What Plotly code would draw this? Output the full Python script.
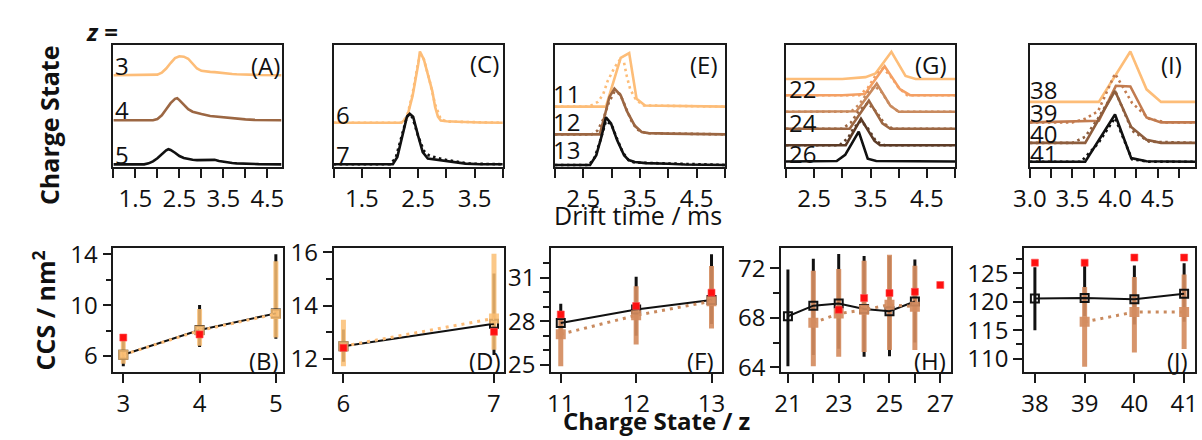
import numpy as np
import plotly.graph_objects as go

W, H = 1202, 440
FONT = "Open Sans"

# ---------------- colours ----------------
LIGHT = "#fdbd78"
ORANGE = "#f4a064"
TAN = "#c98a5e"
BROWN = "#9c6743"
DARK = "#5c3b26"
BLACK = "#111111"
I39_COL = "#c27b4f"
I40_COL = "#8e5e3e"
ERR_LIGHT = "rgba(250,190,115,0.85)"
ERR_TAN = "rgba(212,140,95,0.92)"
RED = "#ff1010"

# ---------------- arrival time distributions (normalised intensity) ----------------
# (A) z = 3, 4, 5
A3_t = [1.0, 1.9, 2.0, 2.1, 2.2, 2.3, 2.4, 2.5, 2.6, 2.7, 2.8, 2.9, 3.0, 3.1, 3.2, 3.3, 3.4, 3.5, 3.6, 3.7, 3.8, 4.0, 4.3, 4.82]
A3_i = [0, 0, 0.005, 0.02, 0.055, 0.1, 0.14, 0.155, 0.152, 0.135, 0.095, 0.055, 0.036, 0.03, 0.027, 0.025, 0.02, 0.016, 0.013, 0.01, 0.008, 0.005, 0.002, 0]
A4_t = [1.0, 1.9, 2.0, 2.1, 2.2, 2.3, 2.4, 2.45, 2.5, 2.6, 2.7, 2.8, 2.9, 3.0, 3.2, 3.4, 3.6, 3.8, 4.0, 4.2, 4.82]
A4_i = [0, 0, 0.01, 0.04, 0.09, 0.14, 0.175, 0.18, 0.165, 0.125, 0.09, 0.07, 0.058, 0.05, 0.035, 0.027, 0.02, 0.012, 0.007, 0.003, 0]
A5_t = [1.0, 1.7, 1.8, 1.9, 2.0, 2.1, 2.2, 2.25, 2.3, 2.4, 2.5, 2.6, 2.7, 2.8, 2.9, 3.0, 3.1, 3.2, 3.3, 3.4, 3.5, 3.6, 3.7, 3.8, 4.0, 4.3, 4.82]
A5_i = [0, 0, 0.008, 0.025, 0.05, 0.085, 0.115, 0.124, 0.118, 0.095, 0.068, 0.052, 0.043, 0.038, 0.035, 0.036, 0.04, 0.042, 0.037, 0.028, 0.021, 0.015, 0.011, 0.008, 0.005, 0.002, 0]

# (C) z = 6, 7
C6_t = [1.0, 2.2, 2.3, 2.4, 2.5, 2.53, 2.6, 2.68, 2.75, 2.8, 2.85, 2.9, 3.0, 3.2, 3.4, 3.6, 4.0]
C6_i = [0, 0.0, 0.04, 0.22, 0.48, 0.584, 0.52, 0.39, 0.26, 0.13, 0.05, 0.018, 0.012, 0.008, 0.004, 0.002, 0]
C6_fit_t = [1.0, 2.2, 2.3, 2.4, 2.5, 2.55, 2.6, 2.7, 2.8, 2.9, 3.0, 4.0]
C6_fit_i = [0, 0.0, 0.05, 0.24, 0.5, 0.56, 0.52, 0.35, 0.15, 0.03, 0.01, 0]
C7_t = [1.0, 2.05, 2.13, 2.22, 2.3, 2.35, 2.41, 2.5, 2.58, 2.67, 2.88, 3.11, 3.34, 3.6, 4.0]
C7_i = [0, 0.0, 0.06, 0.23, 0.39, 0.414, 0.39, 0.23, 0.1, 0.047, 0.034, 0.02, 0.005, 0.0, 0]
C7_fit_t = [1.0, 2.0, 2.1, 2.2, 2.3, 2.35, 2.4, 2.5, 2.6, 2.7, 2.8, 2.9, 3.0, 3.2, 3.4, 4.0]
C7_fit_i = [0, 0, 0.05, 0.22, 0.39, 0.41, 0.38, 0.23, 0.11, 0.07, 0.055, 0.045, 0.035, 0.02, 0.005, 0]

# (E) z = 11, 12, 13
E11_t = [2.0, 2.9, 3.16, 3.31, 3.44, 3.59, 5.0]
E11_i = [0, 0.0, 0.40, 0.44, 0.065, 0.01, 0]
E11_fit_t = [2.0, 2.6, 2.76, 2.85, 2.93, 3.05, 3.13, 3.22, 3.27, 3.33, 3.42, 3.55, 5.0]
E11_fit_i = [0, 0, 0.04, 0.1, 0.21, 0.32, 0.375, 0.36, 0.245, 0.14, 0.065, 0.01, 0]
E12_t = [2.0, 2.79, 2.87, 2.96, 3.05, 3.16, 3.27, 3.41, 3.53, 3.65, 4.0, 4.5, 5.0]
E12_i = [0, 0.0, 0.137, 0.305, 0.375, 0.32, 0.19, 0.07, 0.02, 0.01, 0.006, 0.002, 0]
E12_fit_t = [2.0, 2.65, 2.75, 2.85, 2.95, 3.05, 3.15, 3.25, 3.35, 3.45, 3.6, 5.0]
E12_fit_i = [0, 0, 0.03, 0.12, 0.26, 0.35, 0.33, 0.22, 0.11, 0.04, 0.01, 0]
E13_t = [2.0, 2.62, 2.73, 2.82, 2.9, 2.99, 3.1, 3.22, 3.3, 3.41, 3.6, 3.8, 4.0, 4.3, 5.0]
E13_i = [0, 0, 0.08, 0.23, 0.39, 0.34, 0.2, 0.08, 0.04, 0.025, 0.015, 0.015, 0.01, 0.004, 0]
E13_fit_t = [2.0, 2.6, 2.7, 2.8, 2.9, 3.0, 3.1, 3.2, 3.3, 3.4, 5.0]
E13_fit_i = [0, 0, 0.06, 0.2, 0.36, 0.33, 0.21, 0.1, 0.04, 0.02, 0]

# (G) z = 21 ... 26
G21_t = [2.0, 3.0, 3.41, 3.59, 3.87, 4.12, 4.3, 5.0]
G21_i = [0, 0.0, 0.015, 0.046, 0.223, 0.025, 0.0, 0]
G22_t = [2.0, 3.0, 3.4, 3.75, 4.02, 4.2, 5.0]
G22_i = [0, 0.0, 0.01, 0.238, 0.05, 0.0, 0]
G22_fit_t = [2.0, 3.3, 3.45, 3.6, 3.72, 3.85, 4.0, 4.15, 5.0]
G22_fit_i = [0, 0, 0.06, 0.17, 0.22, 0.16, 0.06, 0.0, 0]
G23_t = [2.0, 3.0, 3.25, 3.61, 3.85, 4.0, 5.0]
G23_i = [0, 0, 0.005, 0.231, 0.05, 0.0, 0]
G23_fit_t = [2.0, 3.15, 3.3, 3.45, 3.58, 3.7, 3.85, 4.0, 5.0]
G23_fit_i = [0, 0, 0.06, 0.16, 0.21, 0.16, 0.05, 0, 0]
G24_t = [2.0, 3.0, 3.13, 3.47, 3.71, 3.85, 5.0]
G24_i = [0, 0, 0.0, 0.23, 0.045, 0.0, 0]
G24_fit_t = [2.0, 3.0, 3.15, 3.3, 3.45, 3.6, 3.75, 3.9, 5.0]
G24_fit_i = [0, 0, 0.05, 0.15, 0.21, 0.14, 0.04, 0, 0]
G25_t = [2.0, 3.0, 3.06, 3.33, 3.57, 3.67, 5.0]
G25_i = [0, 0, 0.0, 0.216, 0.035, 0.0, 0]
G25_fit_t = [2.0, 2.95, 3.1, 3.2, 3.33, 3.45, 3.6, 3.75, 5.0]
G25_fit_i = [0, 0, 0.06, 0.14, 0.2, 0.14, 0.03, 0, 0]
G26_t = [2.0, 2.9, 3.05, 3.29, 3.45, 3.6, 5.0]
G26_i = [0, 0.005, 0.055, 0.246, 0.023, 0.005, 0]

# (I) z = 38 ... 41
I38_t = [3.0, 3.81, 4.18, 4.37, 4.54, 4.94]
I38_i = [0, 0.0, 0.413, 0.103, 0.0, 0]
I39_t = [3.0, 3.81, 4.01, 4.18, 4.37, 4.54, 4.94]
I39_i = [0, 0.013, 0.30, 0.295, 0.04, 0.0, 0]
I39_fit_t = [3.0, 3.5, 3.65, 3.8, 4.0, 4.2, 4.4, 4.6, 4.94]
I39_fit_i = [0, 0, 0.03, 0.09, 0.40, 0.16, 0.03, 0.0, 0]
I40_t = [3.0, 3.65, 4.0, 4.19, 4.37, 4.54, 4.94]
I40_i = [0, 0.0, 0.426, 0.13, 0.025, 0.0, 0]
I40_fit_t = [3.0, 3.5, 3.65, 3.8, 4.0, 4.2, 4.4, 4.94]
I40_fit_i = [0, 0, 0.05, 0.2, 0.43, 0.1, 0.01, 0]
I41_t = [3.0, 3.65, 4.0, 4.19, 4.37, 4.94]
I41_i = [0, 0.0, 0.388, 0.03, 0.005, 0]
I41_fit_t = [3.0, 3.6, 3.8, 4.0, 4.2, 4.4, 4.94]
I41_fit_i = [0, 0.0, 0.15, 0.36, 0.02, 0.0, 0]

# vertical stacking offsets of each charge state trace
OFF_A = {3: 0.754, 4: 0.385, 5: 0.023}
OFF_C = {6: 0.364, 7: 0.024}
OFF_E = {11: 0.496, 12: 0.269, 13: 0.018}
OFF_G = {21: 0.723, 22: 0.59, 23: 0.454, 24: 0.315, 25: 0.18, 26: 0.046}
OFF_I = {38: 0.535, 39: 0.367, 40: 0.199, 41: 0.044}

# ---------------- collision cross sections (nm^2) ----------------
B_z = [3, 4, 5]
B_exp = [6.1, 8.05, 9.35]
B_exp_hi = [7.4, 10.0, 14.0]
B_exp_lo = [5.2, 6.7, 7.35]
B_fit = [6.1, 8.0, 9.3]
B_fit_hi = [7.3, 9.7, 13.45]
B_fit_lo = [5.4, 6.8, 7.45]
B_ref_z = [3, 4]
B_ref = [7.45, 7.7]

D_z = [6, 7]
D_exp = [12.48, 13.32]
D_exp_hi = [13.1, 15.2]
D_exp_lo = [11.9, 12.15]
D_fit = [12.48, 13.52]
D_fit_hi = [13.47, 15.94]
D_fit_lo = [11.73, 12.35]
D_ref_z = [6, 7]
D_ref = [12.42, 13.02]

F_z = [11, 12, 13]
F_exp = [27.87, 28.8, 29.45]
F_exp_hi = [29.2, 31.05, 32.6]
F_exp_lo = [26.8, 27.0, 27.8]
F_fit = [27.1, 28.4, 29.37]
F_fit_hi = [28.5, 30.4, 31.8]
F_fit_lo = [24.9, 26.4, 27.5]
F_ref_z = [11, 12, 13]
F_ref = [28.46, 29.04, 29.96]

H_z = [21, 22, 23, 24, 25, 26]
H_exp = [68.13, 68.98, 69.16, 68.72, 68.54, 69.32]
H_exp_hi = [71.9, 72.77, 73.16, 73.0, 73.0, 72.7]
H_exp_lo = [64.1, 65.0, 65.5, 64.85, 64.9, 66.0]
H_fit_z = [22, 23, 24, 25, 26]
H_fit = [67.6, 68.34, 68.65, 69.05, 68.9]
H_fit_hi = [71.8, 71.95, 72.6, 73.1, 72.2]
H_fit_lo = [64.1, 64.85, 65.25, 65.4, 65.4]
H_ref_z = [23, 24, 25, 26, 27]
H_ref = [68.65, 69.6, 70.0, 70.1, 70.65]

J_z = [38, 39, 40, 41]
J_exp = [120.6, 120.7, 120.45, 121.45]
J_exp_hi = [126.1, 126.3, 126.4, 126.8]
J_exp_lo = [115.0, 117.5, 116.0, 116.5]
J_fit_z = [39, 40, 41]
J_fit = [116.5, 118.2, 118.2]
J_fit_hi = [122.6, 124.4, 124.8]
J_fit_lo = [108.6, 111.1, 111.7]
J_ref_z = [38, 39, 40, 41]
J_ref = [126.9, 126.9, 127.8, 127.8]

# ---------------- figure ----------------
fig = go.Figure()


def ax_ids(n):
    s = "" if n == 1 else str(n)
    return "x" + s, "y" + s


def trace_line(n, t, inten, base, color, dash="solid", width=2.6):
    xr, yr = ax_ids(n)
    y = np.asarray(inten, dtype=float) + base
    fig.add_trace(go.Scatter(
        x=t, y=y, mode="lines", xaxis=xr, yaxis=yr, showlegend=False,
        hoverinfo="skip", line=dict(color=color, width=width, dash=dash,
                                    shape="linear")))


DOT = "2.5px,3.5px"

# (A)
trace_line(1, A3_t, A3_i, OFF_A[3], LIGHT)
trace_line(1, A4_t, A4_i, OFF_A[4], BROWN)
trace_line(1, A5_t, A5_i, OFF_A[5], BLACK)
# (C)
trace_line(2, C6_t, C6_i, OFF_C[6], LIGHT)
trace_line(2, C6_fit_t, C6_fit_i, OFF_C[6], LIGHT, DOT)
trace_line(2, C7_t, C7_i, OFF_C[7], BLACK)
trace_line(2, C7_fit_t, C7_fit_i, OFF_C[7], BLACK, DOT)
# (E)
trace_line(3, E11_t, E11_i, OFF_E[11], LIGHT)
trace_line(3, E11_fit_t, E11_fit_i, OFF_E[11], LIGHT, DOT)
trace_line(3, E12_t, E12_i, OFF_E[12], BROWN)
trace_line(3, E12_fit_t, E12_fit_i, OFF_E[12], BROWN, DOT)
trace_line(3, E13_t, E13_i, OFF_E[13], BLACK)
trace_line(3, E13_fit_t, E13_fit_i, OFF_E[13], BLACK, DOT)
# (G)
trace_line(4, G21_t, G21_i, OFF_G[21], LIGHT)
trace_line(4, G22_t, G22_i, OFF_G[22], ORANGE)
trace_line(4, G22_fit_t, G22_fit_i, OFF_G[22], ORANGE, DOT)
trace_line(4, G23_t, G23_i, OFF_G[23], TAN)
trace_line(4, G23_fit_t, G23_fit_i, OFF_G[23], TAN, DOT)
trace_line(4, G24_t, G24_i, OFF_G[24], BROWN)
trace_line(4, G24_fit_t, G24_fit_i, OFF_G[24], BROWN, DOT)
trace_line(4, G25_t, G25_i, OFF_G[25], DARK)
trace_line(4, G25_fit_t, G25_fit_i, OFF_G[25], DARK, DOT)
trace_line(4, G26_t, G26_i, OFF_G[26], BLACK)
# (I)
trace_line(5, I38_t, I38_i, OFF_I[38], LIGHT)
trace_line(5, I39_t, I39_i, OFF_I[39], I39_COL)
trace_line(5, I39_fit_t, I39_fit_i, OFF_I[39], I39_COL, DOT)
trace_line(5, I40_t, I40_i, OFF_I[40], I40_COL)
trace_line(5, I40_fit_t, I40_fit_i, OFF_I[40], I40_COL, DOT)
trace_line(5, I41_t, I41_i, OFF_I[41], BLACK)
trace_line(5, I41_fit_t, I41_fit_i, OFF_I[41], BLACK, DOT)


def ccs_panel(n, ez, ey, ehi, elo, fz, fy, fhi, flo, rz, ry, fit_col, err_col):
    xr, yr = ax_ids(n)
    common = dict(xaxis=xr, yaxis=yr, showlegend=False, hoverinfo="skip")
    ey, ehi, elo = map(np.asarray, (ey, ehi, elo))
    fy, fhi, flo = map(np.asarray, (fy, fhi, flo))
    # error bars of the measured values
    fig.add_trace(go.Scatter(
        x=ez, y=ey, mode="markers", marker=dict(size=1, opacity=0),
        error_y=dict(type="data", symmetric=False, array=ehi - ey,
                     arrayminus=ey - elo, color=BLACK, thickness=3, width=0),
        **common))
    # error bars of the modelled values
    fig.add_trace(go.Scatter(
        x=fz, y=fy, mode="markers", marker=dict(size=1, opacity=0),
        error_y=dict(type="data", symmetric=False, array=fhi - fy,
                     arrayminus=fy - flo, color=err_col, thickness=5, width=0),
        **common))
    fig.add_trace(go.Scatter(
        x=ez, y=ey, mode="lines+markers",
        line=dict(color=BLACK, width=2),
        marker=dict(symbol="square-open", size=8, color=BLACK,
                    line=dict(width=2, color=BLACK)),
        **common))
    fig.add_trace(go.Scatter(
        x=fz, y=fy, mode="lines+markers",
        line=dict(color=fit_col, width=3, dash="3px,5px"),
        marker=dict(symbol="square", size=10, color=err_col),
        **common))
    fig.add_trace(go.Scatter(
        x=rz, y=ry, mode="markers",
        marker=dict(symbol="square", size=7, color=RED,
                    line=dict(width=1, color="rgba(255,80,80,0.6)")),
        **common))


ccs_panel(6, B_z, B_exp, B_exp_hi, B_exp_lo, B_z, B_fit, B_fit_hi, B_fit_lo,
          B_ref_z, B_ref, LIGHT, ERR_LIGHT)
ccs_panel(7, D_z, D_exp, D_exp_hi, D_exp_lo, D_z, D_fit, D_fit_hi, D_fit_lo,
          D_ref_z, D_ref, LIGHT, ERR_LIGHT)
ccs_panel(8, F_z, F_exp, F_exp_hi, F_exp_lo, F_z, F_fit, F_fit_hi, F_fit_lo,
          F_ref_z, F_ref, TAN, ERR_TAN)
ccs_panel(9, H_z, H_exp, H_exp_hi, H_exp_lo, H_fit_z, H_fit, H_fit_hi,
          H_fit_lo, H_ref_z, H_ref, TAN, ERR_TAN)
ccs_panel(10, J_z, J_exp, J_exp_hi, J_exp_lo, J_fit_z, J_fit, J_fit_hi,
          J_fit_lo, J_ref_z, J_ref, TAN, ERR_TAN)

# ---------------- axes ----------------
LINE = "#1a1a1a"
TICKFONT = dict(family=FONT, size=24, color="#111")

# top row: drift time axes (pixel boxes)
top_boxes = [(98, 269), (322, 494), (547, 720), (782, 954), (1030, 1198)]
top_y = (33, 162)
top_ranges = [[1.0, 4.82], [1.0, 4.0], [2.0, 5.0], [2.0, 5.0], [3.0, 4.94]]
top_ticks = [[1.5, 2.5, 3.5, 4.5], [1.5, 2.5, 3.5], [2.5, 3.5, 4.5],
             [2.5, 3.5, 4.5], [3.0, 3.5, 4.0, 4.5]]
top_minor = [[1.0, 2.0, 3.0, 4.0], [1.0, 2.0, 3.0, 4.0], [2.0, 3.0, 4.0, 5.0],
             [2.0, 3.0, 4.0, 5.0], [3.25, 3.75, 4.25, 4.75]]

# bottom row: CCS axes
bot_boxes = [(98, 271), (322, 495), (543, 717), (777, 950), (1024, 1198)]
bot_y = (248, 379)
bot_xranges = [[2.87, 5.1], [5.935, 7.065], [10.87, 13.14], [20.73, 27.43],
               [37.78, 41.22]]
bot_yranges = [[4.72, 14.45], [11.5, 16.14], [24.48, 33.0], [63.6, 73.6],
               [107.6, 129.4]]
bot_xticks = [[3, 4, 5], [6, 7], [11, 12, 13], [21, 23, 25, 27],
              [38, 39, 40, 41]]
bot_xminor = [[], [], [], [22, 24, 26], []]
bot_yticks = [[6, 10, 14], [12, 14, 16], [25, 28, 31], [64, 68, 72],
              [110, 115, 120, 125]]
bot_yminor = [[8, 12], [13, 15], [26, 27, 29, 30, 32], [66, 70],
              [112.5, 117.5, 122.5, 127.5]]


def dom_x(a, b):
    return [a / W, b / W]


def dom_y(top, bottom):
    return [1 - bottom / H, 1 - top / H]


layout_axes = {}
for i in range(5):
    n = i + 1
    s = "" if n == 1 else str(n)
    layout_axes["xaxis" + s] = dict(
        domain=dom_x(*top_boxes[i]), range=top_ranges[i], anchor="y" + s,
        showline=True, mirror=True, linecolor=LINE, linewidth=1.6,
        ticks="outside", ticklen=9, tickwidth=1.5, tickcolor=LINE,
        tickmode="array", tickvals=top_ticks[i],
        ticktext=[f"{v:.1f}" for v in top_ticks[i]], tickangle=0,
        minor=dict(tickmode="array", tickvals=top_minor[i], ticks="outside",
                   ticklen=9, tickwidth=1.5, tickcolor=LINE, showgrid=False),
        tickfont=TICKFONT, showgrid=False, zeroline=False)
    layout_axes["yaxis" + s] = dict(
        domain=dom_y(*top_y), range=[0, 1], anchor="x" + s,
        showline=True, mirror=True, linecolor=LINE, linewidth=1.6,
        ticks="", showticklabels=False, showgrid=False, zeroline=False)

for i in range(5):
    n = i + 6
    s = str(n)
    layout_axes["xaxis" + s] = dict(
        domain=dom_x(*bot_boxes[i]), range=bot_xranges[i], anchor="y" + s,
        showline=True, mirror=True, linecolor=LINE, linewidth=1.6,
        ticks="outside", ticklen=9, tickwidth=1.5, tickcolor=LINE,
        tickmode="array", tickvals=bot_xticks[i], tickangle=0,
        ticktext=[str(v) for v in bot_xticks[i]],
        minor=dict(tickmode="array", tickvals=bot_xminor[i], ticks="outside",
                   ticklen=9, tickwidth=1.5, tickcolor=LINE, showgrid=False),
        tickfont=TICKFONT, showgrid=False, zeroline=False)
    layout_axes["yaxis" + s] = dict(
        domain=dom_y(*bot_y), range=bot_yranges[i], anchor="x" + s,
        showline=True, mirror=True, linecolor=LINE, linewidth=1.6,
        ticks="outside", ticklen=9, tickwidth=1.5, tickcolor=LINE,
        tickmode="array", tickvals=bot_yticks[i], tickangle=0,
        ticktext=[str(v) for v in bot_yticks[i]],
        minor=dict(tickmode="array", tickvals=bot_yminor[i], ticks="outside",
                   ticklen=6, tickwidth=1.5, tickcolor=LINE, showgrid=False),
        tickfont=TICKFONT, showgrid=False, zeroline=False)

# ---------------- text ----------------
annotations = []


def label(text, xpx, ypx, anchor="left", size=24, angle=0):
    annotations.append(dict(
        text=text, x=xpx / W, y=1 - ypx / H, xref="paper", yref="paper",
        xanchor=anchor, yanchor="middle", showarrow=False, textangle=angle,
        font=dict(family=FONT, size=size, color="#111"), borderpad=0,
        borderwidth=0))


# charge-state labels
for txt, xp, yp in [("3", 100, 54), ("4", 100, 101), ("5", 100, 149),
                    ("6", 324, 106), ("7", 324, 149),
                    ("11", 545, 84), ("12", 545, 114), ("13", 545, 143),
                    ("22", 785, 79), ("24", 785, 115), ("26", 785, 148),
                    ("38", 1030, 80), ("39", 1030, 104), ("40", 1030, 126),
                    ("41", 1030, 148)]:
    label(txt, xp, yp)

# panel letters
for txt, xp, yp in [("(A)", 267, 54), ("(C)", 490, 52), ("(E)", 713, 53),
                    ("(G)", 946, 53), ("(I)", 1185, 53),
                    ("(B)", 266, 367), ("(D)", 492, 366), ("(F)", 709, 367),
                    ("(H)", 945, 367), ("(J)", 1191, 367)]:
    label(txt, xp, yp, anchor="right")

label("<b><i>z</i> =</b>", 70, 19, size=24)
label("<b>Charge State</b>", 32, 117, anchor="center", size=25, angle=-90)
label("<b>CCS / nm<sup>2</sup></b>", 28, 314, anchor="center", size=25, angle=-90)
label("Drift time / ms", 632, 213, anchor="center", size=25)
label("<b>Charge State / z</b>", 650, 430, anchor="center", size=24)

fig.update_layout(
    width=W, height=H, margin=dict(l=0, r=0, t=0, b=0),
    paper_bgcolor="white", plot_bgcolor="white",
    font=dict(family=FONT, color="#111"),
    showlegend=False, annotations=annotations, **layout_axes)

fig.write_html("out.html")
